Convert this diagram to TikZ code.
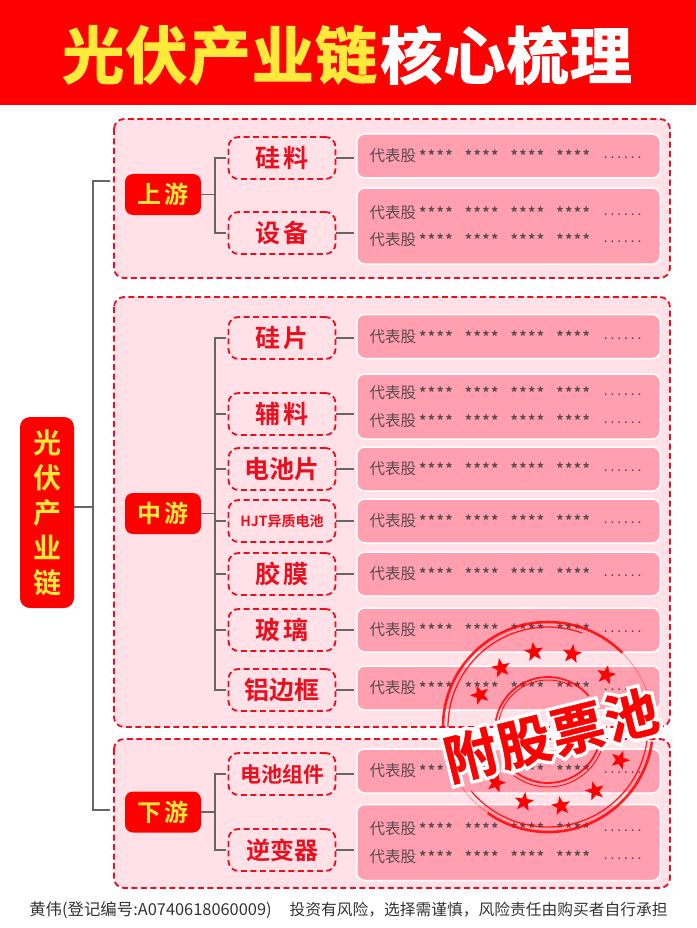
\documentclass[tikz,border=0pt]{standalone}
\usepackage{fontspec}
\setmainfont{Noto Sans CJK SC}
\newfontfamily\titlefont[FakeBold=2,LetterSpace=2]{Noto Sans CJK SC Bold}
\newfontfamily\tagfont[LetterSpace=10]{Noto Sans CJK SC Bold}
\newfontfamily\plainbold{Noto Sans CJK SC Bold}
\newfontfamily\halofont[FakeBold=14,LetterSpace=4]{Noto Sans CJK SC Bold}
\newfontfamily\stampfont[FakeBold=1,LetterSpace=4]{Noto Sans CJK SC Bold}
\newfontfamily\starfont[LetterSpace=10]{Noto Sans CJK SC Bold}
\newfontfamily\dotfont[LetterSpace=35]{Noto Sans CJK SC Bold}
\usetikzlibrary{shapes.geometric}
\definecolor{bandred}{HTML}{FF0000}
\definecolor{paneltint}{HTML}{FFE1E7}
\definecolor{dashred}{HTML}{E8101F}
\definecolor{listpink}{HTML}{FF9FB0}
\definecolor{tagyellow}{HTML}{FFEA3C}
\definecolor{linkgray}{HTML}{666666}
\definecolor{stocktext}{HTML}{5A4A50}
\newcommand{\stockline}{\mbox{{\fontsize{15.5}{14}\selectfont 代表股}\hspace{3pt}{\starfont\fontsize{14.5}{14}\selectfont ****\hspace{12pt}****\hspace{12pt}****\hspace{12pt}****\hspace{14pt}}\raisebox{3pt}{\dotfont\fontsize{10}{14}\selectfont ......}}}
\tikzset{
panel/.style={draw=dashred,fill=paneltint,line width=1.8pt,dash pattern=on 6pt off 3.5pt,rounded corners=10pt},
rootbox/.style={fill=bandred,text=tagyellow,rounded corners=10pt,minimum width=54pt,minimum height=191pt,inner sep=0pt,align=center,font=\plainbold\fontsize{28}{35}\selectfont},
groupbox/.style={fill=bandred,text=tagyellow,rounded corners=8pt,minimum width=76pt,minimum height=41pt,inner sep=0pt,font=\tagfont\fontsize{24}{24}\selectfont},
subbox/.style={draw=dashred,fill=paneltint,text=dashred,line width=1.8pt,dash pattern=on 6pt off 3.5pt,rounded corners=10pt,minimum width=107pt,minimum height=42pt,inner sep=0pt,font=\tagfont\fontsize{25}{25}\selectfont},
listbox/.style={draw=white,fill=listpink,text=stocktext,line width=1.5pt,rounded corners=8pt,minimum width=303.5pt,text width=278pt,inner xsep=12.5pt,inner ysep=0pt,align=left,anchor=west},
oneline/.style={listbox,minimum height=44pt},
twoline/.style={listbox,minimum height=76pt,font=\fontsize{14}{27.5}\selectfont},
link/.style={linkgray,line width=1.5pt},
ring/.style={bandred,opacity=0.85},
redstar/.style={star,star points=5,star point ratio=2.4,fill=bandred,minimum size=20pt,inner sep=0pt}
}
\begin{document}
\begin{tikzpicture}[x=1pt,y=-1pt]
\useasboundingbox (0,0) rectangle (696,928);
% title band
\fill[bandred] (0,0) rectangle (696,105);
\node[text=tagyellow,font=\titlefont\fontsize{62}{62}\selectfont,anchor=west,inner sep=0pt] (titleleft) at (62,55) {光伏产业链};
\node[text=white,font=\titlefont\fontsize{62}{62}\selectfont,anchor=west,inner sep=0pt] (titleright) at (380,55) {核心梳理};
% panels
\draw[panel] (114,119) rectangle (670,278);
\draw[panel] (114,297) rectangle (670,727);
\draw[panel] (114,739) rectangle (670,888);
\node[rootbox] (root) at (47,512.5) {光\\伏\\产\\业\\链};
\node[groupbox] (up) at (163,194.5) {上游};
\node[groupbox] (mid) at (163,513.5) {中游};
\node[groupbox] (down) at (163,812) {下游};
% materials
\node[subbox] (guiliao) at (282,158) {硅料};
\node[subbox] (shebei) at (282,233) {设备};
\node[subbox] (guipian) at (282,338) {硅片};
\node[subbox] (fuliao) at (282,414) {辅料};
\node[subbox,font=\plainbold\fontsize{25}{25}\selectfont] (dianchi) at (282,469) {电池片};
\node[subbox,font=\plainbold\fontsize{14}{14}\selectfont] (hjt) at (282,521) {HJT异质电池};
\node[subbox] (jiaomo) at (282,574) {胶膜};
\node[subbox] (boli) at (282,630) {玻璃};
\node[subbox,font=\plainbold\fontsize{25}{25}\selectfont] (lvkuang) at (282,690) {铝边框};
\node[subbox,font=\plainbold\fontsize{21}{21}\selectfont] (zujian) at (282,774) {电池组件};
\node[subbox,font=\plainbold\fontsize{24}{24}\selectfont] (nibian) at (282,850) {逆变器};
% stock lists
\node[oneline] (lguiliao) at (356,156) {\stockline};
\node[twoline] (lshebei) at (356,226) {\stockline\\\stockline};
\node[oneline] (lguipian) at (356,336.5) {\stockline};
\node[twoline,minimum height=65pt] (lfuliao) at (356,406.5) {\stockline\\\stockline};
\node[oneline] (ldianchi) at (356,469) {\stockline};
\node[oneline] (lhjt) at (356,521) {\stockline};
\node[oneline] (ljiaomo) at (356,574) {\stockline};
\node[oneline] (lboli) at (356,630) {\stockline};
\node[oneline] (llvkuang) at (356,688) {\stockline};
\node[oneline] (lzujian) at (356,771) {\stockline};
\node[twoline] (lnibian) at (356,842.5) {\stockline\\\stockline};
% connectors
\coordinate (upend) at (110,181);
\coordinate (downend) at (110,810);
\coordinate (rootbus) at (93,507);
\draw[link] (root.east |- rootbus) -- (rootbus);
\draw[link] (upend) -| (rootbus) |- (downend);
\foreach \g/\s in {up/guiliao,up/shebei,mid/guipian,mid/fuliao,mid/dianchi,mid/hjt,mid/jiaomo,mid/boli,mid/lvkuang,down/zujian,down/nibian}
  \draw[link,shorten >=2pt] (\g.east) -- ++(14,0) |- (\s.west);
\foreach \s/\l in {guiliao/lguiliao,shebei/lshebei,guipian/lguipian,fuliao/lfuliao,dianchi/ldianchi,hjt/lhjt,jiaomo/ljiaomo,boli/lboli,lvkuang/llvkuang,zujian/lzujian,nibian/lnibian}
  \draw[link,shorten >=2pt] (\s.east) -- (\s.east -| \l.west);
% stamp
\draw[ring,line width=2.6pt] (548,727) ++(180:105) arc (180:315:105);
\draw[ring,line width=1.3pt] (548,727) ++(180:100) arc (180:290:100);
\draw[ring,line width=1pt,opacity=0.3] (548,727) ++(315:105) arc (315:340:105);
\draw[ring,line width=2.6pt] (548,727) ++(8:105) arc (8:125:105);
\draw[ring,line width=1.3pt] (548,727) ++(8:100) arc (8:140:100);
\draw[ring,line width=1pt,opacity=0.3] (548,727) ++(125:105) arc (125:150:105);
\draw[ring,line width=1.8pt] (548,730) ++(190:53) arc (190:320:53);
\draw[ring,line width=1pt] (548,730) ++(185:50) arc (185:300:50);
\draw[ring,line width=1.8pt] (548,730) ++(20:53) arc (20:150:53);
\draw[ring,line width=1pt] (548,730) ++(10:57) arc (10:140:57);
\foreach \n/\px/\py/\r in {a/534/652/8,b/572/654/-8,c/501/668/12,d/606/675/-12,e/480/695/20,f/620/760/-20,g/496/783/-15,h/524/802/-8,i/561/806/10,j/595/791/15}
  \node[redstar,rotate=\r] (star\n) at (\px,\py) {};
\node[text=white,font=\halofont\fontsize{53}{53}\selectfont,rotate=14,inner sep=0pt] (stamphalo) at (551,735) {附股票池};
\node[text=bandred,font=\stampfont\fontsize{53}{53}\selectfont,rotate=14,inner sep=0pt] (stamptext) at (551,735) {附股票池};
% footer
\node[text=black!80,font=\fontsize{15.75}{16}\selectfont,inner sep=0pt] (footer) at (348.5,910) {{\fontsize{16.4}{16}\selectfont 黄伟(登记编号:A0740618060009)}\hspace{18pt}投资有风险，选择需谨慎，风险责任由购买者自行承担};
\end{tikzpicture}
\end{document}
